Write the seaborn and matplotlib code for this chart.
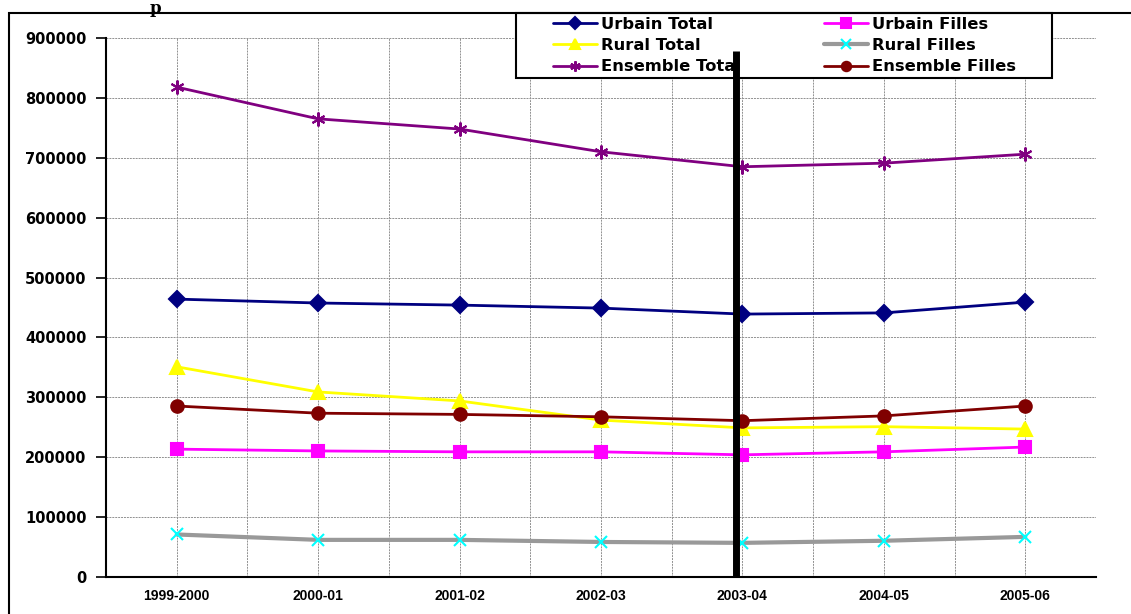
import numpy as np
import pandas as pd
import matplotlib
matplotlib.use('Agg')
import matplotlib.pyplot as plt
import matplotlib.patches as mpatches
import seaborn as sns

sns.set_style('white')
plt.rcParams['font.family'] = ['Liberation Sans', 'DejaVu Sans']
plt.rcParams['font.weight'] = 'bold'
plt.rcParams['text.color'] = 'black'
plt.rcParams['xtick.color'] = 'black'
plt.rcParams['ytick.color'] = 'black'

years = ['1999-2000', '2000-01', '2001-02', '2002-03', '2003-04', '2004-05', '2005-06']

urbain_total = [464000, 457500, 454000, 449000, 439000, 441000, 459000]
urbain_filles = [213500, 210500, 209000, 209000, 204000, 209000, 217000]
rural_total = [351000, 309000, 294000, 262000, 249000, 251000, 247000]
rural_filles = [71000, 62000, 62000, 58500, 57000, 60500, 67000]
ensemble_total = [818000, 765000, 748000, 710000, 685000, 691000, 706000]
ensemble_filles = [285500, 273500, 271500, 267500, 261000, 269000, 285500]

marked_year = '2003-04'

W, H = 1131, 614
x = np.arange(len(years))

fig = plt.figure(figsize=(W / 100, H / 100), dpi=100)
ax = fig.add_axes([106 / W, 1 - 577 / H, 990 / W, 539 / H])

# outer chart frame
fig.patches.append(mpatches.Rectangle((9 / W, -0.05), 1.2, 1 - 13 / H + 0.05,
                                      transform=fig.transFigure, fill=False,
                                      edgecolor='black', linewidth=1.5))
fig.text(150 / W, 1.0, 'p', family='DejaVu Serif', fontsize=12, fontweight='bold',
         ha='left', va='top')

series = [
    ('Urbain Total', urbain_total, '#000080', 'D', '#000080', 8.5),
    ('Urbain Filles', urbain_filles, '#FF00FF', 's', '#FF00FF', 9),
    ('Rural Total', rural_total, '#FFFF00', '^', '#FFFF00', 10),
    ('Rural Filles', rural_filles, '#999999', 'x', '#00FFFF', 9),
    ('Ensemble Total', ensemble_total, '#800080', (6, 2, 0), '#800080', 10),
    ('Ensemble Filles', ensemble_filles, '#800000', 'o', '#800000', 9),
]

for name, vals, col, mk, mcol, ms in series:
    lw = 3 if name == 'Rural Filles' else 2
    sns.lineplot(x=x, y=vals, ax=ax, color=col, linewidth=lw, marker=mk,
                 markersize=ms, markerfacecolor=mcol, markeredgecolor=mcol,
                 markeredgewidth=1.5, label=name, legend=False)

ax.set_xlim(-0.5, len(years) - 0.5)
ax.set_ylim(0, 900000)
ax.set_yticks(np.arange(0, 900001, 100000))
ax.set_yticklabels([str(v) for v in range(0, 900001, 100000)], fontsize=10.5,
                   fontweight='bold', family='DejaVu Sans')
ax.set_xticks(x)
ax.set_xticklabels(years, fontsize=10, fontweight='bold')
ax.set_xticks(np.arange(-0.5, len(years), 1), minor=True)
ax.tick_params(axis='x', which='major', length=0, pad=9)
ax.tick_params(axis='x', which='minor', length=5, width=1.2, direction='out', color='black')
ax.tick_params(axis='y', length=7, width=1.2, direction='out', color='black', left=True, pad=7)
ax.grid(True, which='both', color='#909090', linestyle=(0, (2, 1)), linewidth=0.7)
for s in ['top', 'right']:
    ax.spines[s].set_visible(False)
for s in ['left', 'bottom']:
    ax.spines[s].set_color('black')
    ax.spines[s].set_linewidth(1.5)
ax.set_xlabel('')
ax.set_ylabel('')

# legend box drawn separately (inside the axes so the legend sits above it)
box = mpatches.Rectangle((516 / W, 1 - 78 / H), 536 / W, 65 / H,
                         transform=fig.transFigure, facecolor='white',
                         edgecolor='black', linewidth=1.5, zorder=5, clip_on=False)
ax.add_patch(box)
handles, labels = ax.get_legend_handles_labels()
order = [0, 2, 4, 1, 3, 5]
leg = ax.legend([handles[i] for i in order], [labels[i] for i in order], ncol=2,
                loc='upper left', bbox_to_anchor=(553 / W, 1 - 17 / H),
                bbox_transform=fig.transFigure,
                prop={'family': 'DejaVu Sans', 'weight': 'bold', 'size': 11.8},
                frameon=False, handlelength=2.7, handletextpad=0.25, columnspacing=5.05,
                labelspacing=0.38, borderpad=0, borderaxespad=0, numpoints=1,
                markerscale=0.75, labelcolor='black')
leg.set_zorder(6)

# thick vertical marker line, drawn over the legend
xi = years.index(marked_year)
ax.plot([xi - 0.042, xi - 0.042], [0, 878000], color='black', linewidth=5, zorder=7,
        solid_capstyle='butt', clip_on=False)

fig.savefig('out.png', dpi=100)
